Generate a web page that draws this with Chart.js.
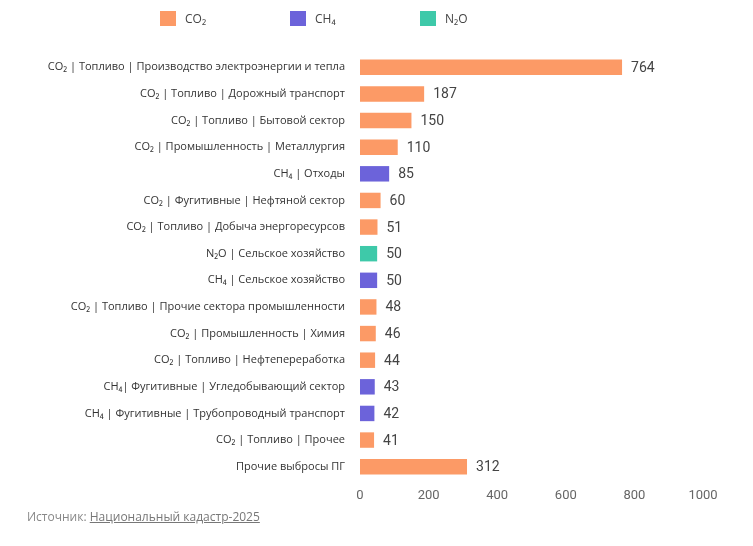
<!DOCTYPE html>
<html>
<head>
<meta charset="utf-8">
<script src="https://cdn.jsdelivr.net/npm/chart.js@4"></script>
<style>
  html, body { margin: 0; padding: 0; background: #fff; }
  #wrap { position: relative; width: 753px; height: 546px; }
  #chart { position: absolute; left: 0; top: 0; }
  .legend { position: absolute; top: 11px; left: 160px; font-family: "Open Sans", sans-serif; font-size: 12px; color: #444; }
  .legend span.item { position: absolute; top: 0; white-space: nowrap; line-height: 16px; }
  .legend i { display: inline-block; width: 16px; height: 15px; vertical-align: top; margin-right: 9px; }
  .source { position: absolute; left: 27px; top: 508px; font-family: "Open Sans", sans-serif; font-size: 12px; color: #888; }
  .source u { color: #777; }
</style>
</head>
<body>
<div id="wrap">
  <canvas id="chart" width="753" height="546"></canvas>
  <div class="legend" id="legend"></div>
  <div class="source">Источник: <u>Национальный кадастр-2025</u></div>
</div>
<script>
(function () {
    'use strict';

    var categories = [
        'CO₂ | Топливо | Производство электроэнергии и тепла',
        'CO₂ | Топливо | Дорожный транспорт',
        'CO₂ | Топливо | Бытовой сектор',
        'CO₂ | Промышленность | Металлургия',
        'CH₄ | Отходы',
        'CO₂ | Фугитивные | Нефтяной сектор',
        'CO₂ | Топливо | Добыча энергоресурсов',
        'N₂O | Сельское хозяйство',
        'CH₄ | Сельское хозяйство',
        'CO₂ | Топливо | Прочие сектора промышленности',
        'CO₂ | Промышленность | Химия',
        'CO₂ | Топливо | Нефтепереработка',
        'CH₄| Фугитивные | Угледобывающий сектор',
        'CH₄ | Фугитивные | Трубопроводный транспорт',
        'CO₂ | Топливо | Прочее',
        'Прочие выбросы ПГ'
    ];
    var values = [764, 187, 150, 110, 85, 60, 51, 50, 50, 48, 46, 44, 43, 42, 41, 312];
    var gases = ['CO2', 'CO2', 'CO2', 'CO2', 'CH4', 'CO2', 'CO2', 'N2O', 'CH4', 'CO2', 'CO2', 'CO2', 'CH4', 'CH4', 'CO2', 'CO2'];

    var gasKeys = ['CO2', 'CH4', 'N2O'];
    var gasNames = ['CO₂', 'CH₄', 'N₂O'];
    var gasColors = ['#FC9A66', '#6C63DA', '#3EC9A9'];

    var xTicks = [0, 200, 400, 600, 800, 1000];

    // one dataset per gas, null where the row belongs to another gas
    var datasets = gasKeys.map(function (g, i) {
        return {
            label: gasNames[i],
            data: values.map(function (v, j) { return gases[j] === g ? v : null; }),
            backgroundColor: gasColors[i],
            borderWidth: 0,
            barPercentage: 0.58,
            categoryPercentage: 1
        };
    });

    // html legend
    var legend = document.getElementById('legend');
    gasNames.forEach(function (n, i) {
        var s = document.createElement('span');
        s.className = 'item';
        s.style.left = (i * 130) + 'px';
        s.innerHTML = '<i style="background:' + gasColors[i] + '"></i>' + n;
        legend.appendChild(s);
    });

    var valueLabels = {
        id: 'valueLabels',
        afterDatasetsDraw: function (chart) {
            var ctx = chart.ctx;
            ctx.save();
            ctx.font = '14px Roboto, sans-serif';
            ctx.fillStyle = '#444';
            ctx.textBaseline = 'middle';
            chart.data.datasets.forEach(function (ds, i) {
                chart.getDatasetMeta(i).data.forEach(function (el, j) {
                    if (ds.data[j] === null) return;
                    ctx.fillText(String(ds.data[j]), el.x + 9, el.y + 1);
                });
            });
            ctx.restore();
        }
    };

    new Chart(document.getElementById('chart'), {
        type: 'bar',
        data: {
            labels: categories,
            datasets: datasets
        },
        options: {
            indexAxis: 'y',
            responsive: false,
            animation: false,
            layout: {
                padding: { left: 30, right: 50, top: 54, bottom: 36 }
            },
            scales: {
                y: {
                    stacked: true,
                    grid: { display: false, drawTicks: false },
                    border: { display: false },
                    ticks: {
                        color: '#333',
                        padding: 15,
                        font: { family: '"Open Sans", sans-serif', size: 11 }
                    },
                    afterFit: function (s) { s.width = 330; }
                },
                x: {
                    stacked: true,
                    min: 0,
                    max: 1000,
                    grid: { display: false, drawTicks: false },
                    border: { display: false },
                    afterBuildTicks: function (s) {
                        s.ticks = xTicks.map(function (v) { return { value: v }; });
                    },
                    ticks: {
                        color: '#666',
                        padding: 8,
                        font: { family: 'Roboto, sans-serif', size: 13 },
                        callback: function (value) { return String(value); }
                    },
                    afterFit: function (s) { s.height = 30; }
                }
            },
            plugins: {
                legend: { display: false },
                tooltip: { enabled: false }
            }
        },
        plugins: [valueLabels]
    });

})();
</script>
</body>
</html>
